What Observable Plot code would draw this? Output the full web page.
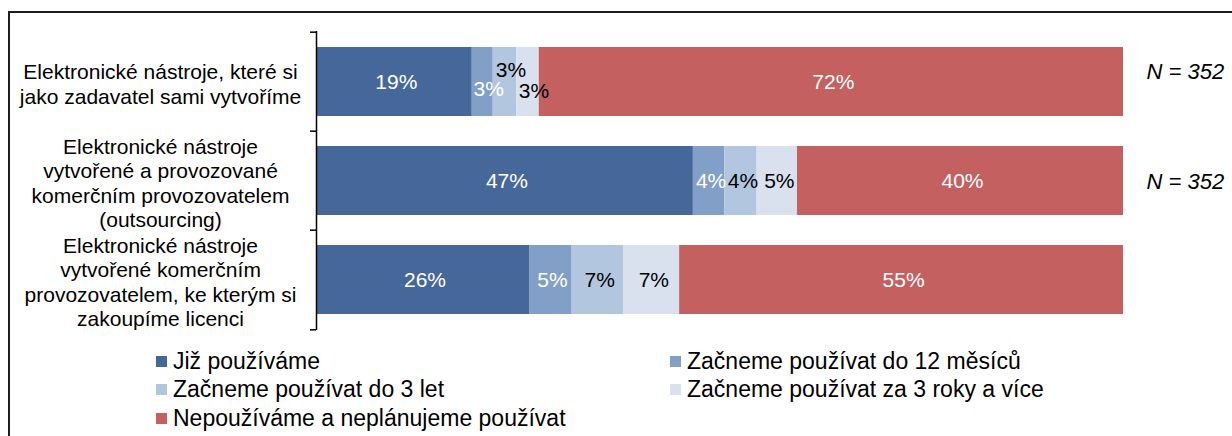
<!DOCTYPE html>
<html>
<head>
<meta charset="utf-8">
<script src="https://cdn.jsdelivr.net/npm/d3@7"></script>
<script src="https://cdn.jsdelivr.net/npm/@observablehq/plot@0.6"></script>
<style>
  html, body { margin: 0; padding: 0; background: #fff; overflow: hidden; }
  #wrap { position: relative; width: 1232px; height: 436px; overflow: hidden; font-family: "Liberation Sans", Arial, sans-serif; }
  #frame { position: absolute; left: 8px; top: 11px; width: 1400px; height: 600px; border: 2px solid #1e1e1e; box-sizing: border-box; pointer-events: none; }
  #chart { position: absolute; left: 0; top: 0; }
  #legend { position: absolute; left: 156px; top: 347px; display: grid; grid-template-columns: 514px auto; grid-auto-rows: 28.5px; font-size: 23px; color: #000; }
  .item { display: flex; align-items: center; white-space: nowrap; }
  .sw { width: 11px; height: 11px; margin-right: 6px; flex: none; }
</style>
</head>
<body>
<div id="wrap">
  <div id="frame"></div>
  <div id="chart"></div>
  <div id="legend"></div>
</div>
<script>
// ---- data ----
const categories = [
  "Elektronické nástroje, které si\njako zadavatel sami vytvoříme",
  "Elektronické nástroje\nvytvořené a provozované\nkomerčním provozovatelem\n(outsourcing)",
  "Elektronické nástroje\nvytvořené komerčním\nprovozovatelem, ke kterým si\nzakoupíme licenci"
];
const seriesNames = [
  "Již používáme",
  "Začneme používat do 12 měsíců",
  "Začneme používat do 3 let",
  "Začneme používat za 3 roky a více",
  "Nepoužíváme a neplánujeme používat"
];
const seriesColors = ["#46679a", "#829fc8", "#b3c6df", "#d9e0ee", "#c46160"];
// percentages per category, in series order
const values0 = [19.3, 2.6, 2.9, 2.8, 72.4];
const values1 = [46.7, 3.9, 4.0, 5.0, 40.4];
const values2 = [26.4, 5.2, 6.5, 6.9, 55.0];
const nLabels = ["N = 352", "N = 352", null];

const allValues = [values0, values1, values2];
const data = [];
categories.forEach((c, ci) => {
  allValues[ci].forEach((v, si) => {
    data.push({category: c, ci, series: seriesNames[si], si, value: v});
  });
});

// ---- layout/styling ----
const W = 1232, H = 340;
const mLeft = 316, mRight = 109, mTop = 31, mBottom = 10;
const step = (H - mTop - mBottom) / categories.length;
const tickLen = 6 * 100 / (W - mLeft - mRight);
const darkLabel = new Set([0, 1, 4]);
const fontFamily = "'Liberation Sans', Arial, sans-serif";

// nudges for crowded labels in the first bar
const nudges = [
  {ci: 0, si: 1, dx: 6, dy: 7},
  {ci: 0, si: 2, dx: 6, dy: -12},
  {ci: 0, si: 3, dx: 6, dy: 9}
];
const isNudged = d => nudges.some(n => n.ci === d.ci && n.si === d.si);
const pct = d => Math.round(d.value) + "%";

// stack all data, show text only where selected
const labelOpts = (show, extra) => Plot.stackX({
  x: "value", y: "category", z: "series",
  text: d => show(d) ? pct(d) : null,
  fill: d => darkLabel.has(d.si) ? "#ffffff" : "#000000",
  fontSize: 21,
  ...extra
});

const marks = [
  Plot.barX(data, Plot.stackX({x: "value", y: "category", z: "series", fill: "series"})),
  Plot.text(data, labelOpts(d => !isNudged(d), {dx: 2})),
  ...nudges.map(n => Plot.text(data, labelOpts(d => d.ci === n.ci && d.si === n.si, {dx: n.dx, dy: n.dy}))),
  // axis line
  Plot.ruleX([0], {stroke: "#000", strokeWidth: 1.5}),
  // axis ticks at band boundaries
  Plot.ruleY(categories, {y: d => d, x1: -tickLen, x2: 0, dy: -step / 2, stroke: "#000", strokeWidth: 1.5}),
  Plot.ruleY(categories.slice(-1), {y: d => d, x1: -tickLen, x2: 0, dy: step / 2, stroke: "#000", strokeWidth: 1.5}),
  // category labels
  Plot.text(categories, {y: d => d, text: d => d, frameAnchor: "left", textAnchor: "middle", dx: -156, dy: 1.5, fontSize: 21, lineHeight: 1.17, fill: "#000"}),
  // N labels
  Plot.text(categories.map((c, i) => ({c, n: nLabels[i], i})).filter(d => d.n && d.i === 0),
    {y: "c", text: "n", frameAnchor: "right", textAnchor: "start", dx: 23, dy: -10, fontSize: 22, fontStyle: "italic", fill: "#000"}),
  Plot.text(categories.map((c, i) => ({c, n: nLabels[i], i})).filter(d => d.n && d.i === 1),
    {y: "c", text: "n", frameAnchor: "right", textAnchor: "start", dx: 23, dy: 1, fontSize: 22, fontStyle: "italic", fill: "#000"})
];

const chart = Plot.plot({
  width: W, height: H,
  marginLeft: mLeft, marginRight: mRight, marginTop: mTop, marginBottom: mBottom,
  x: {domain: [0, 100], axis: null},
  y: {domain: categories, axis: null, paddingInner: 0.3, paddingOuter: 0.15},
  color: {domain: seriesNames, range: seriesColors},
  style: {fontFamily, background: "transparent", overflow: "visible"},
  marks
});
document.getElementById("chart").appendChild(chart);

// legend (order: row-wise, two columns)
const legend = document.getElementById("legend");
seriesNames.forEach((s, i) => {
  const item = document.createElement("div");
  item.className = "item";
  const sw = document.createElement("span");
  sw.className = "sw";
  sw.style.background = seriesColors[i];
  const t = document.createElement("span");
  t.textContent = s;
  item.appendChild(sw);
  item.appendChild(t);
  legend.appendChild(item);
});
</script>
</body>
</html>
